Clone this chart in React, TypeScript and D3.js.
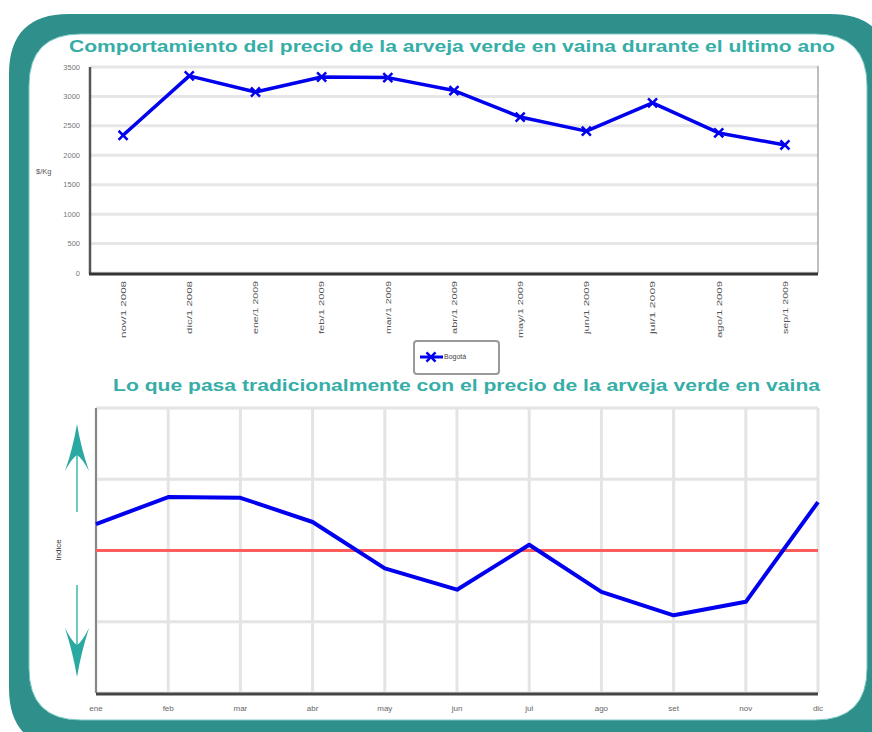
import React from 'react'
import * as d3 from 'd3'

// top chart: price per kg, Bogotá
const fechas = ['nov/1 2008', 'dic/1 2008', 'ene/1 2009', 'feb/1 2009', 'mar/1 2009', 'abr/1 2009',
    'may/1 2009', 'jun/1 2009', 'jul/1 2009', 'ago/1 2009', 'sep/1 2009']
const precios = [2340, 3350, 3075, 3330, 3320, 3100, 2650, 2410, 2890, 2380, 2175]
const precioTicks = [0, 500, 1000, 1500, 2000, 2500, 3000, 3500]

// bottom chart: seasonal index
const meses = ['ene', 'feb', 'mar', 'abr', 'may', 'jun', 'jul', 'ago', 'set', 'nov', 'dic']
const indice = [2.37, 2.75, 2.74, 2.4, 1.75, 1.45, 2.08, 1.42, 1.09, 1.28, 2.68]
const indiceTicks = [0, 1, 2, 3, 4]
const indiceBase = 2

const FONT = 'Liberation Sans, Arial, sans-serif'
const TEAL = '#2e8f8b'
const TITLE = '#36aea8'
const BLUE = '#0000ee'

function roundedRect(x0: number, y0: number, x1: number, y1: number, r: number) {
    const p = d3.path()
    p.moveTo(x0 + r, y0)
    p.lineTo(x1 - r, y0)
    p.quadraticCurveTo(x1, y0, x1, y0 + r)
    p.lineTo(x1, y1 - r)
    p.quadraticCurveTo(x1, y1, x1 - r, y1)
    p.lineTo(x0 + r, y1)
    p.quadraticCurveTo(x0, y1, x0, y1 - r)
    p.lineTo(x0, y0 + r)
    p.quadraticCurveTo(x0, y0, x0 + r, y0)
    p.closePath()
    return p.toString()
}

export default function App() {
    const W = 872, H = 732

    // ---- top chart
    const t = { left: 90, right: 818, top: 67, bottom: 273 }
    const x1 = d3.scaleBand<string>().domain(fechas).range([t.left, t.right])
    const y1 = d3.scaleLinear().domain([0, 3500]).range([t.bottom, t.top])
    const cx1 = (d: string) => (x1(d) as number) + x1.bandwidth() / 2
    const line1 = d3.line<number>()
        .x((_, i) => cx1(fechas[i]))
        .y(d => y1(d))
    const marker = d3.symbol().type(d3.symbolTimes).size(55)()

    // ---- bottom chart
    const b = { left: 96, right: 818, top: 408, bottom: 693 }
    const x2 = d3.scalePoint<string>().domain(meses).range([b.left, b.right])
    const y2 = d3.scaleLinear().domain([0, 4]).range([b.bottom, b.top])
    const line2 = d3.line<number>()
        .x((_, i) => x2(meses[i]) as number)
        .y(d => y2(d))

    const frame = roundedRect(9, 14, 890, 748, 60) + roundedRect(29, 34, 867, 720, 52)

    const ax = 77
    const upArrow = `M${ax},424 Q${ax - 4},448 ${ax - 12},471 Q${ax - 5},458 ${ax},455 Q${ax + 5},458 ${ax + 12},471 Q${ax + 4},448 ${ax},424 Z`
    const downArrow = `M${ax},677 Q${ax - 4},653 ${ax - 12},628 Q${ax - 5},642 ${ax},645 Q${ax + 5},642 ${ax + 12},628 Q${ax + 4},653 ${ax},677 Z`

    return (
        <svg width={W} height={H} style={{ position: 'absolute', left: 0, top: 0 }} fontFamily={FONT}>
            <rect width={W} height={H} fill="#fff" />
            <path d={frame} fill={TEAL} fillRule="evenodd" />
            <path d={roundedRect(29, 34, 867, 720, 52)} fill="none" stroke="#7ccac5" strokeWidth={1} />

            {/* top chart */}
            <text x={69} y={52} fontSize={16} fontWeight="bold" fill={TITLE}
                textLength={766} lengthAdjust="spacingAndGlyphs">
                Comportamiento del precio de la arveja verde en vaina durante el ultimo ano
            </text>
            {precioTicks.map(v => (
                <g key={v}>
                    <line x1={t.left} x2={t.right} y1={y1(v)} y2={y1(v)} stroke="#e6e6e6" strokeWidth={3} />
                    <text x={80} y={y1(v)} dy="0.35em" fontSize={7.5} fill="#777" textAnchor="end">{v}</text>
                </g>
            ))}
            <line x1={t.right} x2={t.right} y1={t.top - 1} y2={t.bottom} stroke="#aaa" strokeWidth={1.5} />
            <line x1={t.left} x2={t.left} y1={t.top} y2={t.bottom + 1} stroke="#555" strokeWidth={2.5} />
            <line x1={t.left - 1} x2={t.right} y1={t.bottom + 1} y2={t.bottom + 1} stroke="#333" strokeWidth={3} />
            <text x={36} y={171} dy="0.35em" fontSize={7.5} fill="#555">$/Kg</text>
            {fechas.map(f => (
                <text key={f} transform={`translate(${cx1(f)},281) rotate(-90)`} dy="0.35em"
                    fontSize={8} fill="#555" textAnchor="end"
                    textLength={f.startsWith('may') || f.startsWith('nov') || f.startsWith('ago') ? 57 : 53}
                    lengthAdjust="spacingAndGlyphs">{f}</text>
            ))}
            <path d={line1(precios) as string} fill="none" stroke={BLUE} strokeWidth={3.5} strokeLinejoin="round" />
            {precios.map((v, i) => (
                <path key={i} d={marker as string} transform={`translate(${cx1(fechas[i])},${y1(v)})`}
                    stroke={BLUE} strokeWidth={2.5} fill="none" />
            ))}

            {/* legend */}
            <rect x={414} y={341} width={85} height={33} rx={3} fill="#fff" stroke="#999" strokeWidth={2} />
            <line x1={420} x2={443} y1={357} y2={357} stroke={BLUE} strokeWidth={3} />
            <path d={marker as string} transform="translate(431,357)" stroke={BLUE} strokeWidth={2.5} fill="none" />
            <text x={444} y={357} dy="0.35em" fontSize={7} fill="#444">Bogotá</text>

            {/* bottom chart */}
            <text x={113} y={391} fontSize={16} fontWeight="bold" fill={TITLE}
                textLength={707} lengthAdjust="spacingAndGlyphs">
                Lo que pasa tradicionalmente con el precio de la arveja verde en vaina
            </text>
            {indiceTicks.map(v => (
                <line key={v} x1={b.left} x2={b.right} y1={y2(v)} y2={y2(v)} stroke="#e4e4e4" strokeWidth={3} />
            ))}
            {meses.map(m => (
                <g key={m}>
                    <line x1={x2(m)} x2={x2(m)} y1={b.top} y2={b.bottom} stroke="#e4e4e4" strokeWidth={3} />
                    <text x={x2(m)} y={708} dy="0.35em" fontSize={8} fill="#666" textAnchor="middle">{m}</text>
                </g>
            ))}
            <line x1={b.left} x2={b.left} y1={b.top} y2={b.bottom} stroke="#888" strokeWidth={2} />
            <line x1={b.left} x2={b.right} y1={b.bottom + 1} y2={b.bottom + 1} stroke="#444" strokeWidth={3} />
            <line x1={b.left} x2={b.right} y1={y2(indiceBase)} y2={y2(indiceBase)} stroke="#ff5c5c" strokeWidth={3} />
            <path d={line2(indice) as string} fill="none" stroke={BLUE} strokeWidth={4} strokeLinejoin="round" />

            <text transform="translate(58,550) rotate(-90)" dy="0.35em" fontSize={8} fill="#333" textAnchor="middle">Indice</text>
            <line x1={ax} x2={ax} y1={440} y2={512} stroke="#6ccac4" strokeWidth={2} />
            <path d={upArrow} fill="#2aa8a2" />
            <line x1={ax} x2={ax} y1={585} y2={660} stroke="#6ccac4" strokeWidth={2} />
            <path d={downArrow} fill="#2aa8a2" />
        </svg>
    )
}
